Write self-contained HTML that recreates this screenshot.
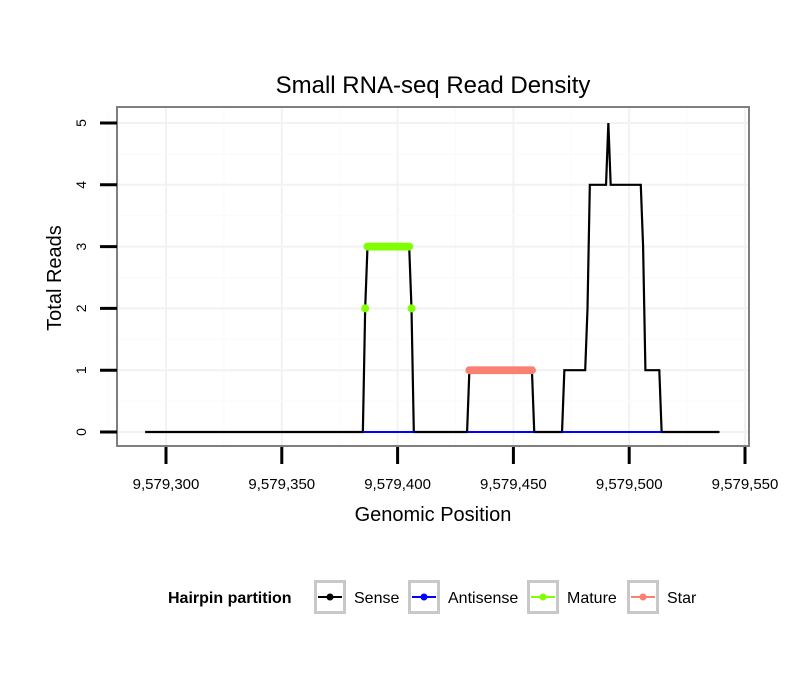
<!DOCTYPE html>
<html><head><meta charset="utf-8"><style>
body{margin:0;background:#fff;}
svg text{font-family:"Liberation Sans",Arial,sans-serif;}
</style></head><body>
<svg id="chart" width="810" height="690">
<rect width="810" height="690" fill="#fff"/>
<text x="433" y="93" font-size="24" text-anchor="middle">Small RNA-seq Read Density</text>
<g id="grid"></g>
<g id="series"></g>
<rect x="117" y="107" width="632" height="339" fill="none" stroke="#7f7f7f" stroke-width="2"/>
<g id="axes"></g>
<text x="433" y="521" font-size="20" text-anchor="middle">Genomic Position</text>
<text x="61" y="278" font-size="20" text-anchor="middle" transform="rotate(-90 61 278)">Total Reads</text>
<g id="legend">
<text x="168" y="603" font-size="16" font-weight="bold">Hairpin partition</text>
</g>
</svg>
<script>
const xTicks=[9579300,9579350,9579400,9579450,9579500,9579550];
const yTicks=[0,1,2,3,4,5];
const sensePos=[9579291,9579385,9579386,9579387,9579405,9579406,9579407,9579430,9579431,9579458,9579459,9579471,9579472,9579481,9579482,9579483,9579490,9579491,9579492,9579505,9579506,9579507,9579513,9579514,9579539];
const senseVal=[0,0,2,3,3,2,0,0,1,1,0,0,1,1,2,4,4,5,4,4,3,1,1,0,0];
const antisenseRanges=[[9579385,9579407],[9579430,9579459],[9579471,9579514]];
const maturePos=[9579386,9579387,9579388,9579389,9579390,9579391,9579392,9579393,9579394,9579395,9579396,9579397,9579398,9579399,9579400,9579401,9579402,9579403,9579404,9579405,9579406];
const matureVal=[2,3,3,3,3,3,3,3,3,3,3,3,3,3,3,3,3,3,3,3,2];
const starStart=9579431, starEnd=9579458;
const starVal=1;

const NS='http://www.w3.org/2000/svg';
const X=v=>166+(v-9579300)*115.8/50;
const Y=v=>432-v*61.8;
function mk(tag,attrs,parent){const e=document.createElementNS(NS,tag);for(const k in attrs)e.setAttribute(k,attrs[k]);parent.appendChild(e);return e;}
const grid=document.getElementById('grid'),axes=document.getElementById('axes'),ser=document.getElementById('series');
for(let i=0;i<xTicks.length;i++){
  const g=mk('line',{x1:X(xTicks[i]),x2:X(xTicks[i]),y1:107,y2:446,stroke:'#f2f2f2','stroke-width':2},grid);
  
  
  if(i<xTicks.length-1){const m=(xTicks[i]+xTicks[i+1])/2;
    const gm=mk('line',{x1:X(m),x2:X(m),y1:107,y2:446,stroke:'#fafafa','stroke-width':1},grid);
    
    }
  if(i==0){const xm=X(xTicks[i]-25);const gm=mk('line',{x1:xm,x2:xm,y1:107,y2:446,stroke:'#fafafa'},grid);
    
    }
  const t=mk('line',{x1:X(xTicks[i]),x2:X(xTicks[i]),y1:447,y2:464,stroke:'#000','stroke-width':3},axes);
  
  
  const l=mk('text',{x:X(xTicks[i]),y:489,'font-size':15,'text-anchor':'middle'},axes);
  l.textContent=xTicks[i].toLocaleString('en-US');
  
  
}
for(let i=0;i<yTicks.length;i++){
  const y=Y(yTicks[i]);
  const g=mk('line',{x1:117,x2:749,y1:y,y2:y,stroke:'#f2f2f2','stroke-width':2},grid);
  
  
  if(i<yTicks.length-1){const ym=Y((yTicks[i]+yTicks[i+1])/2);
    const gm=mk('line',{x1:117,x2:749,y1:ym,y2:ym,stroke:'#fafafa'},grid);
    
    }
  const t=mk('line',{x1:100,x2:117,y1:y,y2:y,stroke:'#000','stroke-width':3},axes);
  
  
  const l=mk('text',{x:86,y:y,'font-size':14,'text-anchor':'middle',transform:`rotate(-90 86 ${y})`},axes);
  l.textContent=yTicks[i];
  
  
}
const sp=mk('polyline',{points:sensePos.map((p,i)=>X(p)+','+Y(senseVal[i])).join(' '),fill:'none',stroke:'#000','stroke-width':2.2},ser);


antisenseRanges.forEach(r=>{
  const a=mk('line',{x1:X(r[0]),x2:X(r[1]),y1:Y(0),y2:Y(0),stroke:'#0000ff','stroke-width':2},ser);
  
  
});
maturePos.forEach((p,i)=>{
  const c=mk('circle',{cx:X(p),cy:Y(matureVal[i]),r:4,fill:'#7fff00'},ser);
  
  
});
for(let p=starStart;p<=starEnd;p++){
  const c=mk('circle',{cx:X(p),cy:Y(starVal),r:4,fill:'#fa8072'},ser);
  
  
}
const leg=document.getElementById('legend');
const items=[['Sense','#000',314,354],['Antisense','#0000ff',408,448],['Mature','#7fff00',527,567],['Star','#fa8072',627,667]];
items.forEach(it=>{
  const b=mk('rect',{x:it[2]+1.5,y:581.5,width:29,height:31,fill:'#fff',stroke:'#c8c8c8','stroke-width':3},leg);
  
  
  mk('line',{x1:it[2]+4,x2:it[2]+28,y1:597,y2:597,stroke:it[1],'stroke-width':2},leg);
  mk('circle',{cx:it[2]+16,cy:597,r:3.5,fill:it[1]},leg);
  const t=mk('text',{x:it[3],y:603,'font-size':16},leg);
  t.textContent=it[0];
  
  
});
</script>
</body></html>
